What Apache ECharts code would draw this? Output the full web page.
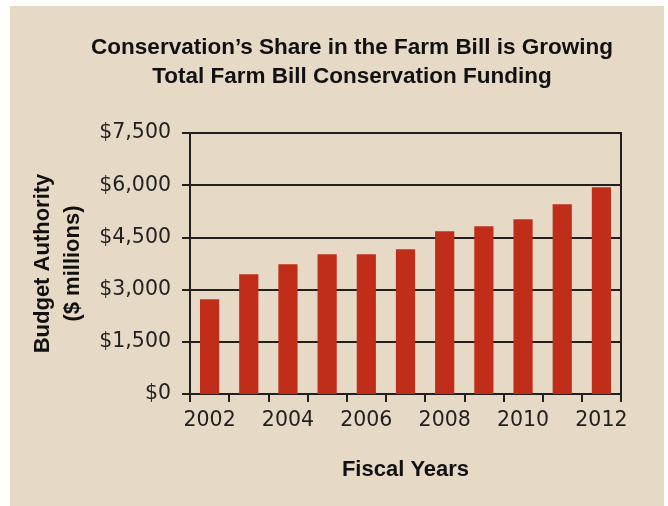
<!DOCTYPE html>
<html>
<head>
<meta charset="utf-8">
<script src="https://cdn.jsdelivr.net/npm/echarts@6/dist/echarts.min.js"></script>
<style>
  html, body { margin: 0; padding: 0; background: #ffffff; }
  #bg { position: absolute; left: 10px; top: 6px; width: 654px; height: 500px; background: #e6dac7; }
  #chart { position: absolute; left: 0; top: 0; width: 668px; height: 506px; }
</style>
</head>
<body>
<div id="bg"></div>
<div id="chart"></div>
<script>
const titleLines = ["Conservation\u2019s Share in the Farm Bill is Growing", "Total Farm Bill Conservation Funding"];
const years = ["2002", "2003", "2004", "2005", "2006", "2007", "2008", "2009", "2010", "2011", "2012"];
const funding = [2726, 3444, 3731, 4018, 4018, 4161, 4678, 4821, 5022, 5453, 5941];
const yTickValues = [0, 1500, 3000, 4500, 6000, 7500];
const yTickLabels = ["$0", "$1,500", "$3,000", "$4,500", "$6,000", "$7,500"];
const xAxisTitle = "Fiscal Years";
const yAxisTitle = "Budget Authority\n($ millions)";

const ink = '#231f20';
const chart = echarts.init(document.getElementById('chart'), null, { renderer: 'canvas' });
chart.setOption({
  backgroundColor: 'transparent',
  animation: false,
  title: {
    text: titleLines.join('\n'),
    left: 347,
    top: 28,
    textAlign: 'center',
    textStyle: {
      fontFamily: 'Liberation Sans',
      fontWeight: 'bold',
      fontSize: 22.5,
      lineHeight: 29,
      color: '#111111'
    }
  },
  grid: {
    left: 190, right: 47, top: 133, bottom: 112,
    show: true,
    borderColor: ink,
    borderWidth: 2,
    backgroundColor: 'transparent'
  },
  xAxis: {
    type: 'category',
    data: years,
    boundaryGap: true,
    name: xAxisTitle,
    nameLocation: 'middle',
    nameGap: 65,
    nameTextStyle: { fontFamily: 'Liberation Sans', fontWeight: 'bold', fontSize: 22, color: '#111111' },
    axisLine: { show: true, lineStyle: { color: ink, width: 2 } },
    axisTick: { show: true, interval: 0, length: 8, lineStyle: { color: ink, width: 2 } },
    axisLabel: {
      interval: 1,
      margin: 16,
      fontFamily: 'DejaVu Sans',
      fontSize: 20.5,
      color: ink
    },
    splitLine: { show: false }
  },
  yAxis: {
    type: 'value',
    min: 0,
    max: 7500,
    interval: 1500,
    name: yAxisTitle,
    nameLocation: 'middle',
    nameRotate: 90,
    nameGap: 98,
    nameTextStyle: { fontFamily: 'Liberation Sans', fontWeight: 'bold', fontSize: 22, lineHeight: 30, color: '#111111' },
    axisLine: { show: true, lineStyle: { color: ink, width: 2 } },
    axisTick: { show: true, length: 8, lineStyle: { color: ink, width: 2 } },
    axisLabel: {
      margin: 19,
      fontFamily: 'DejaVu Sans',
      fontSize: 20.5,
      color: ink,
      formatter: function (v) {
        const i = yTickValues.indexOf(v);
        return i >= 0 ? yTickLabels[i] : '';
      }
    },
    splitLine: { show: true, lineStyle: { color: ink, width: 2 } }
  },
  series: [{
    type: 'bar',
    data: funding,
    barCategoryGap: '51%',
    itemStyle: { color: '#c02e1a' }
  }]
});
</script>
</body>
</html>
